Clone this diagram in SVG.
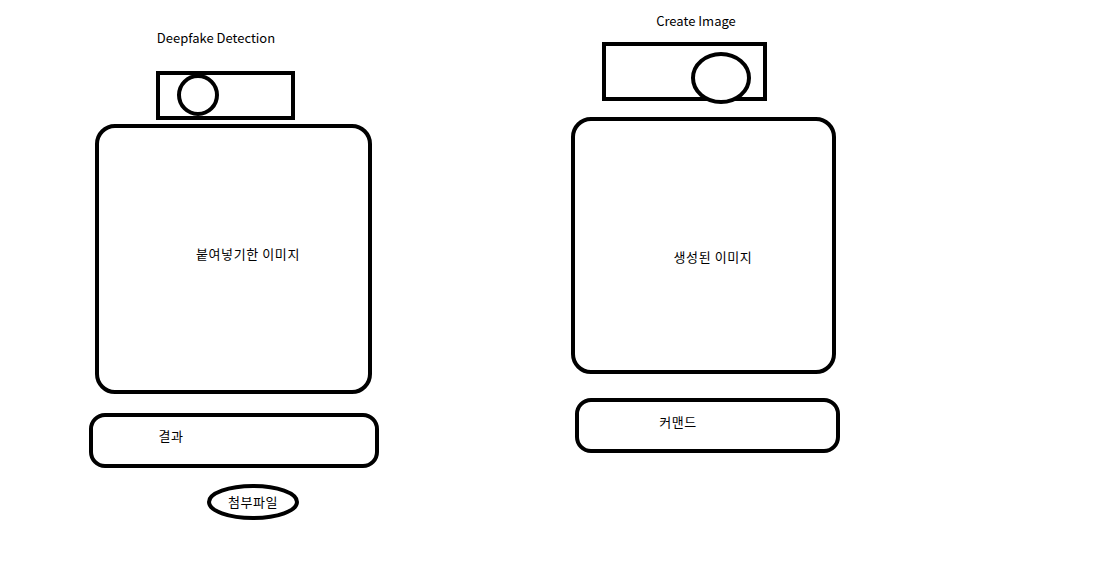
<svg xmlns="http://www.w3.org/2000/svg" width="1101" height="567" viewBox="0 0 1101 567">
<style>
.s{fill:#fff;stroke:#000;stroke-width:4}
.t{font-family:"Noto Sans CJK KR","Liberation Sans",sans-serif;font-size:13px;fill:#000;text-anchor:middle}
.k{letter-spacing:0.6px}
</style>
<rect width="1101" height="567" fill="#fff"/>
<g id="title-left"><text class="t" x="216" y="43">Deepfake Detection</text></g>
<g id="camera-left">
<rect class="s" x="158" y="73" width="135" height="45"/>
<circle class="s" cx="198" cy="95" r="19"/>
</g>
<g id="screen-left">
<rect class="s" x="97" y="126" width="273" height="266" rx="18"/>
<text class="t k" x="248" y="259">붙여넣기한 이미지</text>
</g>
<g id="result">
<rect class="s" x="91" y="415" width="286" height="51" rx="14"/>
<text class="t k" x="171" y="441">결과</text>
</g>
<g id="attachment">
<ellipse class="s" cx="253" cy="502" rx="44" ry="16"/>
<text class="t k" x="253" y="507">첨부파일</text>
</g>
<g id="title-right"><text class="t" x="696" y="26">Create Image</text></g>
<g id="camera-right">
<rect class="s" x="604" y="44" width="161" height="55"/>
<ellipse class="s" cx="721" cy="78" rx="28" ry="24"/>
</g>
<g id="screen-right">
<rect class="s" x="573" y="119" width="261" height="253" rx="18"/>
<text class="t k" x="713" y="262">생성된 이미지</text>
</g>
<g id="command">
<rect class="s" x="577" y="400" width="261" height="51" rx="14"/>
<text class="t k" x="678" y="427">커맨드</text>
</g>
<g id="connectors"></g>
</svg>
